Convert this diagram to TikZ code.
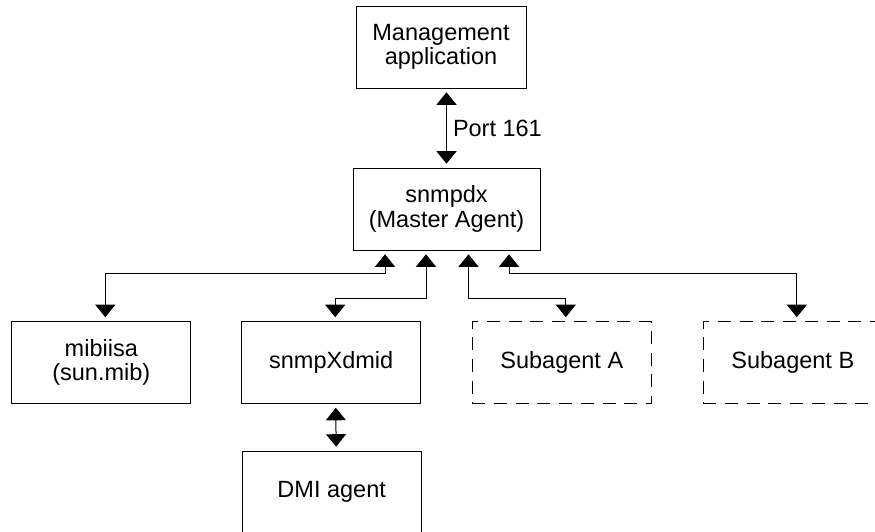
\documentclass[tikz,border=0pt]{standalone}
\usepackage{fontspec}
\setmainfont{Liberation Sans}
\usepackage{tikz}
\usetikzlibrary{arrows.meta, positioning}

\begin{document}
\begin{tikzpicture}[x=1pt, y=-1pt,
    box/.style={draw, line width=1pt, minimum width=179pt, minimum height=82pt,
                inner sep=0pt, align=center, font=\fontsize{23.5}{24.5}\selectfont},
    subbox/.style={box, dash pattern=on 13pt off 8.7pt},
    link/.style={line width=1pt, {Triangle[width=20pt,length=12.5pt]}-{Triangle[width=20pt,length=12.5pt]},
                 shorten <=3.8pt, shorten >=3.8pt}]
\clip (0,0) rectangle (875,531);

% top: manager and master agent
\node[box, minimum width=170pt] (mgmt) at (441,47) {Management\\application};
\node[box, minimum width=187pt] (master) at (446.5,209) {snmpdx\\(Master Agent)};
\draw[link] (master.north |- mgmt.south) -- (master.north)
    node[midway, anchor=west, xshift=5pt, inner sep=1pt, font=\fontsize{23.5}{24.5}\selectfont] (port) {Port 161};

% subagents
\node[box] (mibiisa) at (101.3,362.5) {mibiisa\\(sun.mib)};
\node[box] (xdmid) at (331.2,362.5) {snmpXdmid};
\node[subbox] (subA) at (561.8,362.5) {Subagent A};
\node[subbox] (subB) at (792.8,362.5) {Subagent B};
\node[box] (dmi) at (331.7,492) {DMI agent};

\draw[link] ([xshift=-61.5pt]master.south) -- ++(0,23.3) -| ([xshift=4pt]mibiisa.north);
\draw[link] ([xshift=-20.5pt]master.south) -- ++(0,48.3) -| ([xshift=4pt]xdmid.north);
\draw[link] ([xshift=22pt]master.south) -- ++(0,48.3) -| ([xshift=4pt]subA.north);
\draw[link] ([xshift=62.5pt]master.south) -- ++(0,23.3) -| ([xshift=4pt]subB.north);
\draw[link] ([xshift=4.5pt]xdmid.south) -- ([xshift=4.5pt]dmi.north);
\end{tikzpicture}
\end{document}
